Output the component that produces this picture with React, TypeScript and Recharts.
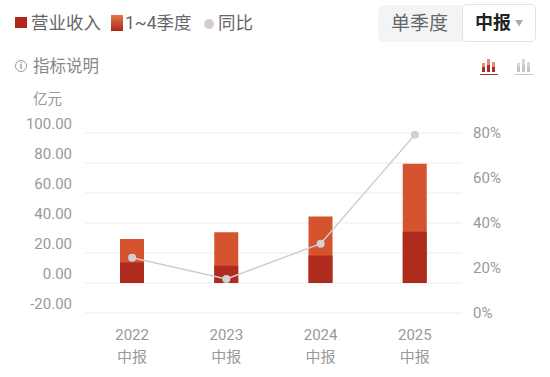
import React from 'react';
import { ComposedChart, Bar, Line, XAxis, YAxis, CartesianGrid } from 'recharts';

const years = ['2022', '2023', '2024', '2025'];
const period = '中报';
const revenue = [13.7, 11.5, 18.3, 34.1]; // 营业收入
const fullYear = [29.4, 33.9, 44.3, 79.5]; // 1~4季度
const yoy = [24.6, 15.1, 30.8, 79.2]; // 同比 (%)
const leftTicks = [-20, 0, 20, 40, 60, 80, 100];
const rightTicks = [0, 20, 40, 60, 80];

const DARK = '#ae2b1d';
const LIGHT = '#d5532f';
const GRAY = '#999';
const FONT = 'Roboto, "Noto Sans CJK SC", sans-serif';

const data = years.map((y, i) => ({
  year: y,
  revenue: revenue[i],
  fullYear: fullYear[i],
  yoy: yoy[i],
}));

const LeftTick = (props: any) => (
  <text x={72} y={props.y - 9} textAnchor="end" dominantBaseline="central" fill={GRAY} fontSize={15} fontFamily={FONT}>
    {props.payload.value.toFixed(2)}
  </text>
);

const RightTick = (props: any) => (
  <text x={473} y={props.y} textAnchor="start" dominantBaseline="central" fill={GRAY} fontSize={15} fontFamily={FONT}>
    {props.payload.value}%
  </text>
);

const XTick = (props: any) => (
  <text textAnchor="middle" dominantBaseline="central" fill={GRAY} fontSize={15} fontFamily={FONT}>
    <tspan x={props.x} y={335}>{props.payload.value}</tspan>
    <tspan x={props.x} y={357}>{period}</tspan>
  </text>
);

function BarIcon({ left, active }: { left: number; active: boolean }) {
  const top = active ? '#e08a78' : '#d6d6d6';
  const bottom = active ? DARK : '#c4c4c4';
  const heights = [9, 13, 10];
  return (
    <div style={{ position: 'absolute', left, top: 58, width: 18, height: 17 }}>
      {heights.map((h, i) => (
        <div
          key={i}
          style={{
            position: 'absolute',
            left: 2 + i * 5,
            bottom: 3,
            width: 3,
            height: h,
            background: `linear-gradient(${top} 0 45%, ${bottom} 45% 100%)`,
          }}
        />
      ))}
      <div style={{ position: 'absolute', left: 0, bottom: 0, width: 18, height: 1.5, background: bottom }} />
    </div>
  );
}

export default function App() {
  return (
    <div
      style={{
        position: 'absolute',
        left: 0,
        top: 0,
        width: 550,
        height: 377,
        background: '#fff',
        overflow: 'hidden',
        fontFamily: FONT,
      }}
    >
      <ComposedChart
        width={550}
        height={377}
        data={data}
        margin={{ top: 133, right: 0, bottom: 4, left: 0 }}
        barGap={-24}
      >
        <CartesianGrid yAxisId="left" vertical={false} stroke="#ececec" strokeWidth={1} />
        <XAxis dataKey="year" axisLine={false} tickLine={false} height={60} tick={<XTick />} interval={0} />
        <YAxis
          yAxisId="left"
          orientation="left"
          width={85}
          domain={[-20, 100]}
          ticks={leftTicks}
          axisLine={false}
          tickLine={false}
          tick={<LeftTick />}
        />
        <YAxis
          yAxisId="right"
          orientation="right"
          width={88}
          domain={[0, 80]}
          ticks={rightTicks}
          axisLine={false}
          tickLine={false}
          tick={<RightTick />}
        />
        <Bar yAxisId="left" dataKey="fullYear" fill={LIGHT} barSize={24} isAnimationActive={false} />
        <Bar yAxisId="left" dataKey="revenue" fill={DARK} barSize={24} isAnimationActive={false} />
        <Line
          yAxisId="right"
          type="linear"
          dataKey="yoy"
          stroke="#cfcfcf"
          strokeWidth={1.5}
          dot={{ r: 4, fill: '#d2d2d2', stroke: '#d2d2d2', strokeWidth: 0 }}
          activeDot={false}
          isAnimationActive={false}
        />
      </ComposedChart>

      {/* legend row */}
      <div style={{ position: 'absolute', left: 15, top: 17, width: 12, height: 11, background: '#b0281c' }} />
      <div style={{ position: 'absolute', left: 31, top: 11, fontSize: 17.5, lineHeight: '24px', color: '#666' }}>营业收入</div>
      <div
        style={{
          position: 'absolute',
          left: 111,
          top: 15,
          width: 12,
          height: 16,
          background: 'linear-gradient(#e7744a, #a8281c)',
        }}
      />
      <div style={{ position: 'absolute', left: 125, top: 11, fontSize: 17.5, lineHeight: '24px', color: '#666' }}>1~4季度</div>
      <div
        style={{
          position: 'absolute',
          left: 204,
          top: 18.5,
          width: 10,
          height: 10,
          borderRadius: '50%',
          background: '#cfcfcf',
        }}
      />
      <div style={{ position: 'absolute', left: 218, top: 11, fontSize: 17.5, lineHeight: '24px', color: '#666' }}>同比</div>

      {/* period switch */}
      <div
        style={{
          position: 'absolute',
          left: 378,
          top: 5,
          width: 157,
          height: 37,
          borderRadius: 6,
          background: '#f3f4f6',
        }}
      />
      <div style={{ position: 'absolute', left: 391, top: 11, fontSize: 19, lineHeight: '26px', color: '#666' }}>单季度</div>
      <div
        style={{
          position: 'absolute',
          left: 462,
          top: 4,
          width: 72,
          height: 36,
          borderRadius: 5,
          background: '#fff',
          border: '1px solid #e3e3e3',
        }}
      />
      <div style={{ position: 'absolute', left: 475, top: 10, fontSize: 18, lineHeight: '26px', color: '#222', fontWeight: 700 }}>
        中报
      </div>
      <div style={{ position: 'absolute', left: 515, top: 14, fontSize: 8, lineHeight: '20px', color: '#aaa' }}>▼</div>

      {/* second row */}
      <div
        style={{
          position: 'absolute',
          left: 15,
          top: 60,
          width: 10,
          height: 10,
          borderRadius: '50%',
          border: '1.2px solid #999',
          fontSize: 9,
          lineHeight: '10px',
          textAlign: 'center',
          color: '#999',
          fontWeight: 700,
        }}
      >
        i
      </div>
      <div style={{ position: 'absolute', left: 33, top: 55, fontSize: 16.5, lineHeight: '24px', color: '#888' }}>指标说明</div>
      <BarIcon left={480} active={true} />
      <BarIcon left={515} active={false} />

      <div style={{ position: 'absolute', left: 33, top: 90, fontSize: 14.5, lineHeight: '20px', color: GRAY }}>亿元</div>
    </div>
  );
}
